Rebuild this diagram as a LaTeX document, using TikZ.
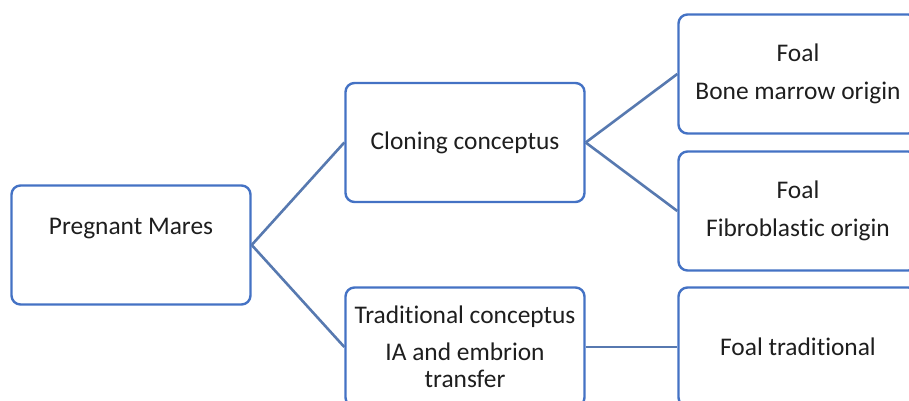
\documentclass[tikz,border=0pt]{standalone}
\usepackage{fontspec}
\setmainfont{Carlito}[Ligatures=NoCommon]
\definecolor{boxblue}{HTML}{4472C4}
\definecolor{linkblue}{HTML}{5779B0}
\definecolor{textgray}{HTML}{1E1E1E}
\tikzset{
  stagebox/.style={draw=boxblue, line width=2.4pt, rounded corners=9pt, fill=white, text=textgray,
    minimum width=239pt, minimum height=119pt, align=center, font=\fontsize{25.4}{30}\selectfont},
  link/.style={draw=linkblue, line width=2.6pt}
}
\begin{document}
\begin{tikzpicture}[x=1pt, y=1pt]
  % 画像の大きさ (909 x 401)
  \useasboundingbox (0,0) rectangle (909,401);
  \clip (0,0) rectangle (909,401);

  % 左の箱
  \node[stagebox, text height=17pt, text depth=37pt] (mares) at (131,156) {Pregnant Mares};

  % 中央の箱
  \node[stagebox] (cloning) at (465,258.5) {Cloning conceptus};
  \node[stagebox] (trad) at (465,54) {Traditional conceptus\\[7pt] IA and embrion\\[-3pt] transfer};

  % 右の箱 (右端は切れている)
  \node[stagebox] (bone) at (798,327) {Foal\\[8pt] Bone marrow origin};
  \node[stagebox] (fibro) at (798,190) {Foal\\[8pt] Fibroblastic origin};
  \node[stagebox] (foaltrad) at (798,54) {Foal traditional};

  % 接続線
  \draw[link] (mares.east) -- (cloning.west);
  \draw[link] (mares.east) -- (trad.west);
  \draw[link] (cloning.east) -- (bone.west);
  \draw[link] (cloning.east) -- (fibro.west);
  \draw[link] (trad.east) -- (foaltrad.west);

\end{tikzpicture}
\end{document}
